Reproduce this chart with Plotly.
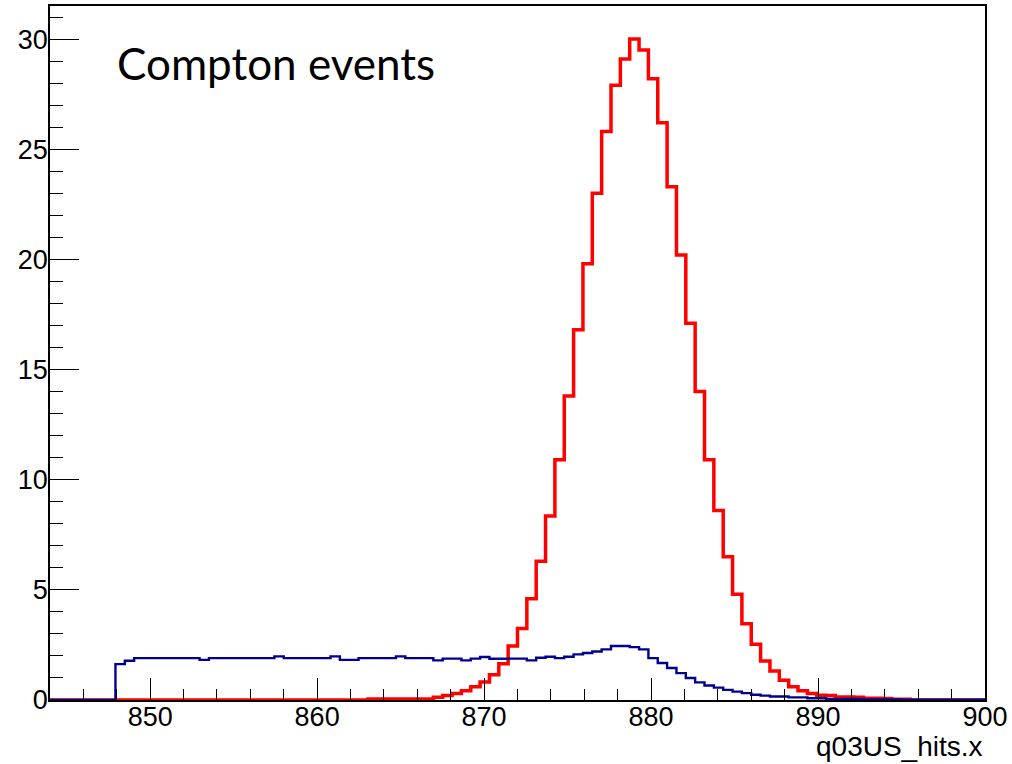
import numpy as np
import plotly.graph_objects as go

# ---- data ----
x_min, x_max, n_bins = 844.0, 900.0, 100
x_ticks = [850, 860, 870, 880, 890, 900]
y_ticks = [0, 5, 10, 15, 20, 25, 30]

red_counts = [
    0, 0, 0, 0, 0, 0, 0, 0, 0, 0,
    0, 0, 0, 0, 0, 0, 0, 0, 0, 0,
    0, 0, 0, 0, 0, 0, 0, 0, 0, 0,
    0, 0, 0, 0, 0.05, 0.05, 0.05, 0.05, 0.05, 0.05,
    0.05, 0.12, 0.2, 0.3, 0.42, 0.6, 0.82, 1.15, 1.65, 2.45,
    3.25, 4.6, 6.3, 8.35, 10.9, 13.8, 16.8, 19.8, 23.0, 25.8,
    27.9, 29.1, 30.0, 29.5, 28.2, 26.2, 23.3, 20.2, 17.1, 14.0,
    10.9, 8.6, 6.5, 4.8, 3.46, 2.53, 1.77, 1.32, 0.9, 0.6,
    0.42, 0.3, 0.22, 0.2, 0.14, 0.14, 0.12, 0.08, 0.08, 0.07,
    0.03, 0.03, 0, 0, 0, 0, 0, 0, 0, 0,
]

blue_counts = [
    0, 0, 0, 0, 0, 0, 0, 1.63, 1.78, 1.9,
    1.9, 1.9, 1.9, 1.9, 1.9, 1.9, 1.82, 1.9, 1.9, 1.9,
    1.9, 1.9, 1.9, 1.9, 1.98, 1.9, 1.9, 1.9, 1.9, 1.9,
    1.98, 1.82, 1.82, 1.9, 1.9, 1.9, 1.9, 1.98, 1.9, 1.9,
    1.9, 1.8, 1.88, 1.88, 1.8, 1.88, 1.95, 1.87, 1.87, 1.88,
    1.88, 1.8, 1.92, 1.96, 1.9, 1.96, 2.07, 2.13, 2.2, 2.3,
    2.45, 2.45, 2.4, 2.3, 1.9, 1.68, 1.45, 1.22, 1.0, 0.8,
    0.66, 0.56, 0.46, 0.38, 0.31, 0.24, 0.2, 0.16, 0.16, 0.12,
    0.12, 0.08, 0.08, 0.05, 0.05, 0.05, 0.05, 0.03, 0.03, 0.03,
    0.03, 0.01, 0.01, 0.01, 0.01, 0.01, 0.01, 0.01, 0.01, 0.01,
]

x_title = "q03US_hits.x"
label_text = "Compton events"

# ---- figure ----
edges = np.linspace(x_min, x_max, n_bins + 1)


def step_xy(counts):
    return list(edges), list(counts) + [counts[-1]]


fig = go.Figure()
bx, by = step_xy(red_counts)
fig.add_trace(go.Scatter(x=bx, y=by, mode="lines", line_shape="hv",
                         line=dict(color="#ff0000", width=3.5), showlegend=False))
bx, by = step_xy(blue_counts)
fig.add_trace(go.Scatter(x=bx, y=by, mode="lines", line_shape="hv",
                         line=dict(color="#000090", width=2.4), showlegend=False))

W, H = 1012, 764
ml, mr, mt, mb = 50, 27, 6, 64
tick_font = dict(family="Liberation Sans, Arial, sans-serif", size=27, color="black")

fig.update_layout(
    width=W, height=H,
    margin=dict(l=ml, r=mr, t=mt, b=mb, pad=0, autoexpand=False),
    paper_bgcolor="white", plot_bgcolor="white",
    showlegend=False,
    xaxis=dict(
        range=[x_min, x_max], tickvals=x_ticks, ticks="inside", ticklen=22,
        tickwidth=1.2, tickcolor="black", showgrid=False, zeroline=False,
        showline=True, linecolor="black", linewidth=1.5, mirror=True,
        tickfont=tick_font, ticklabelstandoff=-8, automargin=False,
        minor=dict(ticks="inside", ticklen=11, tickwidth=1.2, tickcolor="black",
                   dtick=2, tick0=850, showgrid=False),
    ),
    yaxis=dict(
        range=[0, 31.5], tickvals=y_ticks, ticks="inside", ticklen=29,
        tickwidth=1.2, tickcolor="black", showgrid=False, zeroline=False,
        showline=True, linecolor="black", linewidth=1.5, mirror=True,
        tickfont=tick_font, ticklabelstandoff=-5, automargin=False,
        minor=dict(ticks="inside", ticklen=13, tickwidth=1.2, tickcolor="black",
                   dtick=1, tick0=0, showgrid=False),
    ),
)

plot_h = H - mt - mb
fig.add_annotation(
    text=x_title, xref="paper", yref="paper", x=1.0, y=(700 - 746) / plot_h,
    xanchor="right", yanchor="middle", showarrow=False,
    font=dict(family="Liberation Sans, Arial, sans-serif", size=28, color="black"),
)
fig.add_annotation(
    text=label_text, xref="paper", yref="paper",
    x=(115 - ml) / (W - ml - mr), y=(700 - 63) / plot_h,
    xanchor="left", yanchor="middle", showarrow=False,
    font=dict(family="Lato, Open Sans, sans-serif", size=44, color="black"),
)

fig.write_html("out.html", config={"displayModeBar": False},
               post_script="document.body.style.margin='0px';")
